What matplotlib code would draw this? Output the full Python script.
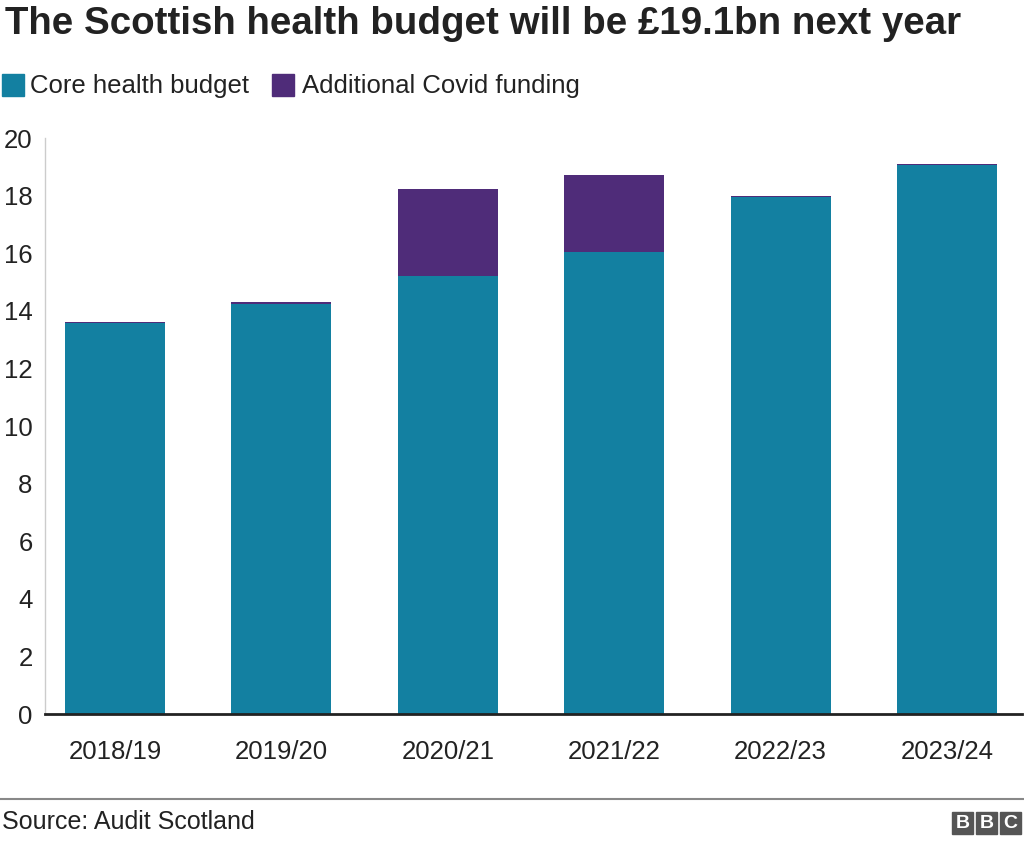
import matplotlib
matplotlib.use("Agg")
import matplotlib.pyplot as plt
from matplotlib.patches import Rectangle

plt.rcParams["font.family"] = ["Liberation Sans", "DejaVu Sans"]

YEARS = ["2018/19", "2019/20", "2020/21", "2021/22", "2022/23", "2023/24"]
CORE = [13.56, 14.25, 15.21, 16.05, 17.95, 19.07]
COVID = [0.05, 0.05, 3.01, 2.67, 0.05, 0.04]

TEAL = "#1380a1"
PURPLE = "#4f2c79"

fig = plt.figure(figsize=(10.24, 8.43), dpi=100)
W, H = 1024, 843
ax = fig.add_axes([45 / W, 1 - 714 / H, (1022 - 45) / W, (714 - 138) / H])

x = range(len(YEARS))
ax.bar(x, CORE, 0.6, color=TEAL)
ax.bar(x, COVID, 0.6, bottom=CORE, color=PURPLE)

ax.set_ylim(0, 20)
ax.set_xlim(-0.42, 5.45)
ax.set_yticks(range(0, 21, 2))
ax.set_xticks(list(x))
ax.set_xticklabels(YEARS)
ax.tick_params(axis="both", length=0, labelsize=18.5, colors="#222222")
ax.tick_params(axis="x", pad=19)
ax.tick_params(axis="y", pad=9)
for s in ["top", "right"]:
    ax.spines[s].set_visible(False)
ax.spines["left"].set_color("#cccccc")
ax.spines["left"].set_linewidth(1)
ax.spines["bottom"].set_color("#222222")
ax.spines["bottom"].set_linewidth(2)

fig.text(5 / W, 1 - 24 / H, "The Scottish health budget will be £19.1bn next year",
         fontsize=27.7, fontweight="bold", color="#222222", va="center", ha="left")

# legend
for lx, tx, col, txt in [(2, 30, TEAL, "Core health budget"),
                         (272, 302, PURPLE, "Additional Covid funding")]:
    fig.patches.append(Rectangle((lx / W, 1 - 96 / H), 22 / W, 22 / H,
                                 transform=fig.transFigure, color=col))
    fig.text(tx / W, 1 - 86 / H, txt, fontsize=18.5, color="#222222",
             va="center", ha="left")

# footer
fig.add_artist(plt.Line2D([0, 1], [1 - 799 / H, 1 - 799 / H],
                          transform=fig.transFigure, color="#888888", lw=1.5))
fig.text(2 / W, 1 - 822 / H, "Source: Audit Scotland", fontsize=18,
         color="#222222", va="center", ha="left")
for i, ch in enumerate("BBC"):
    bx = 952 + i * 24
    fig.patches.append(Rectangle((bx / W, 1 - 834 / H), 21 / W, 22 / H,
                                 transform=fig.transFigure, color="#555555"))
    fig.text((bx + 10.5) / W, 1 - 823 / H, ch, fontsize=14, fontweight="bold",
             color="white", va="center", ha="center")

fig.savefig("out.png", dpi=100)
